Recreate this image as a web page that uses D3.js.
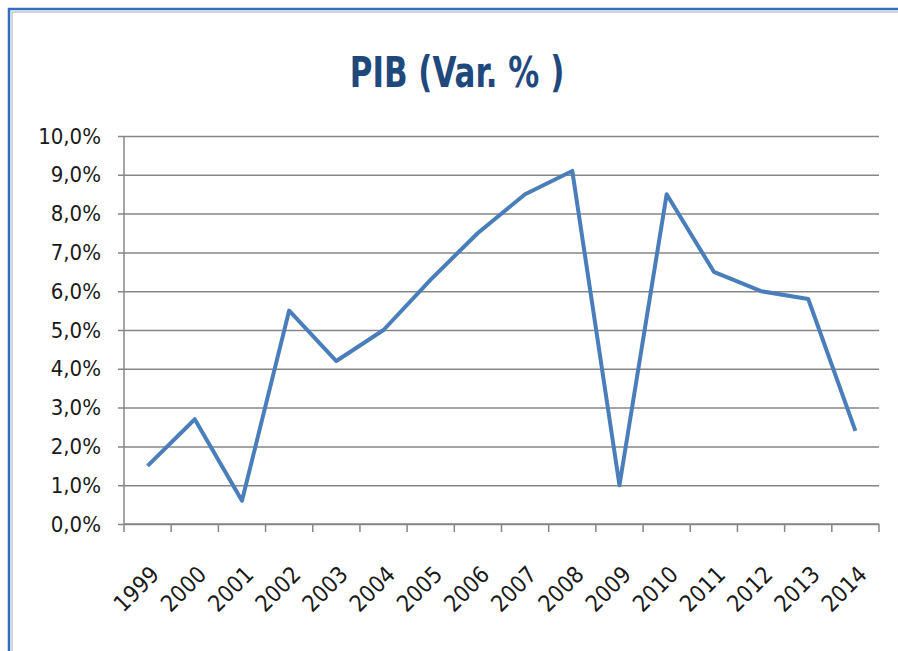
<!DOCTYPE html>
<html>
<head>
<meta charset="utf-8">
<script src="https://cdn.jsdelivr.net/npm/d3@7"></script>
<style>
  html, body { margin: 0; padding: 0; background: #fff; }
  svg text { font-family: "DejaVu Sans Condensed", "Liberation Sans", sans-serif; }
  .axis text { fill: #1a1a1a; font-size: 22px; }
  .x.axis text { font-size: 23px; }
  .axis path, .axis line { stroke: #868686; stroke-width: 1.5; }
</style>
</head>
<body>
<svg id="chart" width="898" height="651"></svg>
<script>
// values
var years = ["1999", "2000", "2001", "2002", "2003", "2004", "2005", "2006",
             "2007", "2008", "2009", "2010", "2011", "2012", "2013", "2014"];
var pib = [0.015, 0.027, 0.006, 0.055, 0.042, 0.050, 0.063, 0.075,
           0.085, 0.091, 0.010, 0.085, 0.065, 0.060, 0.058, 0.024];
var yTicks = [0, 0.01, 0.02, 0.03, 0.04, 0.05, 0.06, 0.07, 0.08, 0.09, 0.10];

var svg = d3.select("#chart");
var margin = { top: 136, right: 19, bottom: 127, left: 124 };
var width = 898 - margin.left - margin.right;
var height = 651 - margin.top - margin.bottom;

// frame: blue outer line and grey inner line (left and top only)
svg.append("path")
  .attr("d", "M9,651 V9 H898")
  .attr("fill", "none").attr("stroke", "#2f6fc4").attr("stroke-width", 2.5);
svg.append("path")
  .attr("d", "M12,651 V12 H898")
  .attr("fill", "none").attr("stroke", "#c8c8c8").attr("stroke-width", 1.5);

svg.append("text")
  .attr("transform", "translate(457,87) scale(0.82,1)")
  .attr("text-anchor", "middle")
  .style("font-size", "42px").style("font-weight", "bold")
  .style("fill", "#1f497d")
  .text("PIB (Var. % )");

var pt = d3.formatLocale({ decimal: ",", thousands: ".", grouping: [3], currency: ["", ""] });

var x = d3.scaleBand().domain(years).range([0, width]).padding(0);
var y = d3.scaleLinear().domain([0, 0.1]).range([height, 0]);

var g = svg.append("g")
  .attr("transform", "translate(" + margin.left + "," + margin.top + ")");

// horizontal gridlines with the y axis labels
var yAxis = g.append("g")
  .attr("class", "y axis")
  .call(d3.axisLeft(y).tickValues(yTicks).tickFormat(pt.format(".1%"))
    .tickSize(-width).tickSizeOuter(0).tickPadding(23));
yAxis.select(".domain").remove();
yAxis.selectAll(".tick line").attr("x1", -6);

g.append("line")
  .attr("x1", 0).attr("x2", 0).attr("y1", 0).attr("y2", height)
  .attr("stroke", "#868686").attr("stroke-width", 1.5);

// x axis: ticks between categories
var xAxis = g.append("g")
  .attr("class", "x axis")
  .attr("transform", "translate(0," + height + ")")
  .call(d3.axisBottom(x).tickSize(0));
xAxis.select(".domain").remove();
xAxis.append("line")
  .attr("x1", 0).attr("x2", width)
  .attr("stroke", "#868686").attr("stroke-width", 1.5);
xAxis.selectAll(".sep")
  .data(d3.range(years.length + 1))
  .enter()
  .append("line")
  .attr("class", "sep")
  .attr("x1", i => i * x.step()).attr("x2", i => i * x.step())
  .attr("y1", 0).attr("y2", 8);
xAxis.selectAll(".tick text")
  .attr("x", 0).attr("y", 0).attr("dy", 0)
  .attr("text-anchor", "end")
  .attr("transform", "translate(13,52) rotate(-45)");

var line = d3.line()
  .x((d, i) => x(years[i]) + x.bandwidth() / 2)
  .y(d => y(d));

g.append("path")
  .datum(pib)
  .attr("fill", "none")
  .attr("stroke", "#4a7ebb")
  .attr("stroke-width", 4)
  .attr("stroke-linejoin", "round")
  .attr("d", line);
</script>
</body>
</html>
